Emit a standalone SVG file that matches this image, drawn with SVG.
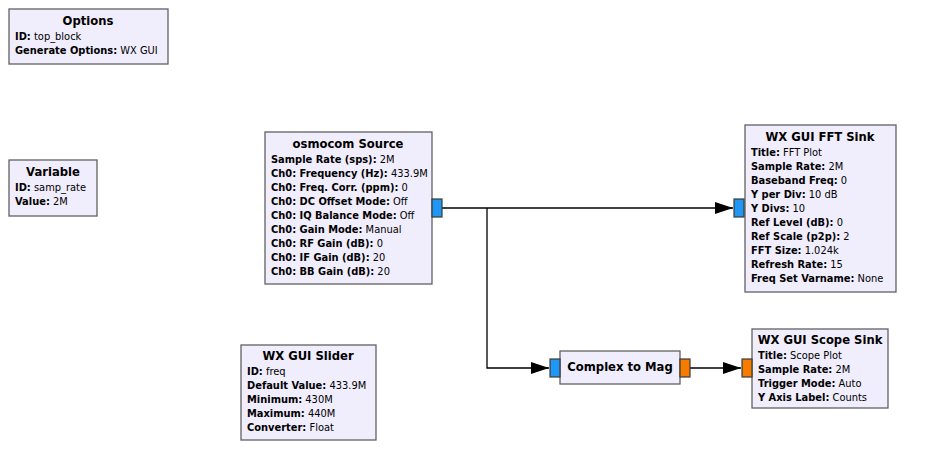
<svg xmlns="http://www.w3.org/2000/svg" width="940" height="455" viewBox="0 0 940 455">
<defs>
<style>
.blk{fill:#F0EDFC;stroke:#616161;stroke-width:1.3}
.t{font-family:"DejaVu Sans",sans-serif;font-size:11.6px;font-weight:bold;fill:#000;text-anchor:middle}
.p{font-family:"DejaVu Sans",sans-serif;font-size:9.9px;fill:#000}
.p tspan.k{font-weight:bold}
.cp{fill:#2196F3;stroke:#3A3A3A;stroke-width:1.2}
.fp{fill:#F57C00;stroke:#3A3A3A;stroke-width:1.2}
.w{fill:none;stroke:#000;stroke-width:1.3}
</style>
<marker id="ah" markerWidth="18" markerHeight="12" refX="18" refY="6" orient="auto" markerUnits="userSpaceOnUse">
<path d="M0,0 L18,6 L0,12 Z" fill="#000"/>
</marker>
</defs>
<rect width="940" height="455" fill="#fff"/>
<g id="connectors">
<path class="w" d="M442,208 H733" marker-end="url(#ah)"/>
<path class="w" d="M487,208 V368 H549" marker-end="url(#ah)"/>
<path class="w" d="M690,368 H741" marker-end="url(#ah)"/>
</g>
<g id="options">
<rect class="blk" x="9" y="9" width="159" height="55"/>
<text class="t" x="88" y="25">Options</text>
<text class="p" x="15" y="40"><tspan class="k">ID:</tspan> top_block</text>
<text class="p" x="15" y="54"><tspan class="k">Generate Options:</tspan> WX GUI</text>
</g>
<g id="variable">
<rect class="blk" x="9" y="160" width="88" height="56"/>
<text class="t" x="53" y="176">Variable</text>
<text class="p" x="15" y="191"><tspan class="k">ID:</tspan> samp_rate</text>
<text class="p" x="15" y="205"><tspan class="k">Value:</tspan> 2M</text>
</g>
<g id="osmocom_source">
<rect class="blk" x="265" y="132" width="167" height="152"/>
<rect class="cp" x="432" y="199" width="10" height="18"/>
<text class="t" x="348" y="148">osmocom Source</text>
<text class="p" x="271" y="163"><tspan class="k">Sample Rate (sps):</tspan> 2M</text>
<text class="p" x="271" y="177"><tspan class="k">Ch0: Frequency (Hz):</tspan> 433.9M</text>
<text class="p" x="271" y="191"><tspan class="k">Ch0: Freq. Corr. (ppm):</tspan> 0</text>
<text class="p" x="271" y="205"><tspan class="k">Ch0: DC Offset Mode:</tspan> Off</text>
<text class="p" x="271" y="219"><tspan class="k">Ch0: IQ Balance Mode:</tspan> Off</text>
<text class="p" x="271" y="233"><tspan class="k">Ch0: Gain Mode:</tspan> Manual</text>
<text class="p" x="271" y="247"><tspan class="k">Ch0: RF Gain (dB):</tspan> 0</text>
<text class="p" x="271" y="261"><tspan class="k">Ch0: IF Gain (dB):</tspan> 20</text>
<text class="p" x="271" y="275"><tspan class="k">Ch0: BB Gain (dB):</tspan> 20</text>
</g>
<g id="fft_sink">
<rect class="blk" x="745" y="125" width="151" height="167"/>
<rect class="cp" x="734" y="199" width="10" height="18"/>
<text class="t" x="820" y="141">WX GUI FFT Sink</text>
<text class="p" x="751" y="156"><tspan class="k">Title:</tspan> FFT Plot</text>
<text class="p" x="751" y="170"><tspan class="k">Sample Rate:</tspan> 2M</text>
<text class="p" x="751" y="184"><tspan class="k">Baseband Freq:</tspan> 0</text>
<text class="p" x="751" y="198"><tspan class="k">Y per Div:</tspan> 10 dB</text>
<text class="p" x="751" y="212"><tspan class="k">Y Divs:</tspan> 10</text>
<text class="p" x="751" y="226"><tspan class="k">Ref Level (dB):</tspan> 0</text>
<text class="p" x="751" y="240"><tspan class="k">Ref Scale (p2p):</tspan> 2</text>
<text class="p" x="751" y="254"><tspan class="k">FFT Size:</tspan> 1.024k</text>
<text class="p" x="751" y="268"><tspan class="k">Refresh Rate:</tspan> 15</text>
<text class="p" x="751" y="282"><tspan class="k">Freq Set Varname:</tspan> None</text>
</g>
<g id="slider">
<rect class="blk" x="241" y="345" width="135" height="95"/>
<text class="t" x="308" y="360">WX GUI Slider</text>
<text class="p" x="247" y="375"><tspan class="k">ID:</tspan> freq</text>
<text class="p" x="247" y="389"><tspan class="k">Default Value:</tspan> 433.9M</text>
<text class="p" x="247" y="403"><tspan class="k">Minimum:</tspan> 430M</text>
<text class="p" x="247" y="417"><tspan class="k">Maximum:</tspan> 440M</text>
<text class="p" x="247" y="431"><tspan class="k">Converter:</tspan> Float</text>
</g>
<g id="complex_to_mag">
<rect class="blk" x="560" y="351" width="120" height="33"/>
<rect class="cp" x="550" y="359" width="10" height="18"/>
<rect class="fp" x="680" y="359" width="10" height="18"/>
<text class="t" x="620" y="371">Complex to Mag</text>
</g>
<g id="scope_sink">
<rect class="blk" x="752" y="329" width="136" height="79"/>
<rect class="fp" x="742" y="359" width="10" height="18"/>
<text class="t" x="820" y="344">WX GUI Scope Sink</text>
<text class="p" x="758" y="359"><tspan class="k">Title:</tspan> Scope Plot</text>
<text class="p" x="758" y="373"><tspan class="k">Sample Rate:</tspan> 2M</text>
<text class="p" x="758" y="387"><tspan class="k">Trigger Mode:</tspan> Auto</text>
<text class="p" x="758" y="401"><tspan class="k">Y Axis Label:</tspan> Counts</text>
</g>
</svg>
